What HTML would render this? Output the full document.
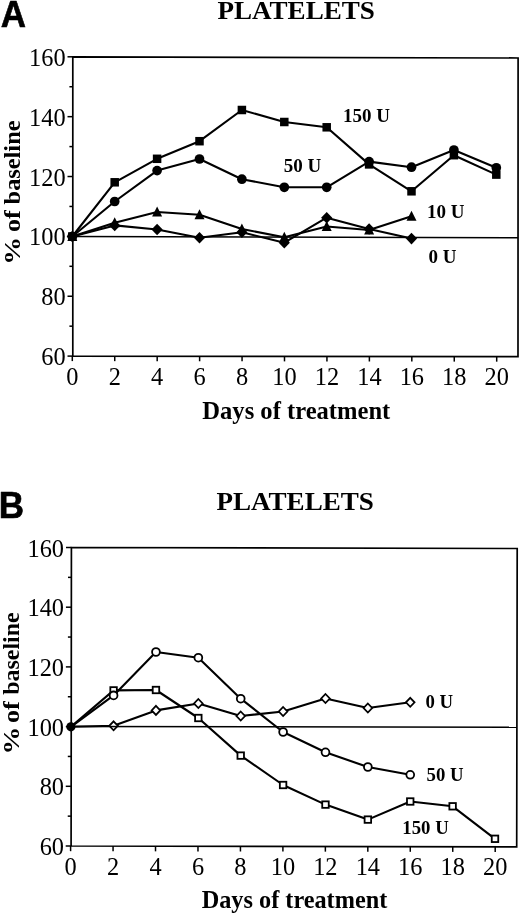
<!DOCTYPE html>
<html lang="en">
<head>
<meta charset="utf-8">
<title>Platelets</title>
<style>
html,body{margin:0;padding:0;background:#fff;}
body{width:520px;height:914px;overflow:hidden;}
svg{display:block;}
text{white-space:pre;}
</style>
</head>
<body>
<svg width="520" height="914" viewBox="0 0 520 914">
<rect x="0" y="0" width="520" height="914" fill="#fff"/>
<g id="chartA">
<g stroke="#000" fill="none" stroke-linecap="butt" stroke-linejoin="miter">
<polygon points="72.8,56.8 518.1,58 518,356.7 72.8,356.1" stroke-width="1.7"/>
<line x1="67.5" y1="356.1" x2="72.8" y2="356.1" stroke-width="1.5"/>
<line x1="69.4" y1="326.17" x2="72.8" y2="326.17" stroke-width="1.5"/>
<line x1="67.5" y1="296.24" x2="72.8" y2="296.24" stroke-width="1.5"/>
<line x1="69.4" y1="266.31" x2="72.8" y2="266.31" stroke-width="1.5"/>
<line x1="67.5" y1="236.38" x2="72.8" y2="236.38" stroke-width="1.5"/>
<line x1="69.4" y1="206.45" x2="72.8" y2="206.45" stroke-width="1.5"/>
<line x1="67.5" y1="176.52" x2="72.8" y2="176.52" stroke-width="1.5"/>
<line x1="69.4" y1="146.59" x2="72.8" y2="146.59" stroke-width="1.5"/>
<line x1="67.5" y1="116.66" x2="72.8" y2="116.66" stroke-width="1.5"/>
<line x1="69.4" y1="86.73" x2="72.8" y2="86.73" stroke-width="1.5"/>
<line x1="67.5" y1="56.8" x2="72.8" y2="56.8" stroke-width="1.5"/>
<line x1="72.3" y1="356.1" x2="72.3" y2="361.1" stroke-width="1.5"/>
<line x1="114.74" y1="356.16" x2="114.74" y2="361.16" stroke-width="1.5"/>
<line x1="157.18" y1="356.21" x2="157.18" y2="361.21" stroke-width="1.5"/>
<line x1="199.62" y1="356.27" x2="199.62" y2="361.27" stroke-width="1.5"/>
<line x1="242.06" y1="356.33" x2="242.06" y2="361.33" stroke-width="1.5"/>
<line x1="284.5" y1="356.39" x2="284.5" y2="361.39" stroke-width="1.5"/>
<line x1="326.94" y1="356.44" x2="326.94" y2="361.44" stroke-width="1.5"/>
<line x1="369.38" y1="356.5" x2="369.38" y2="361.5" stroke-width="1.5"/>
<line x1="411.82" y1="356.56" x2="411.82" y2="361.56" stroke-width="1.5"/>
<line x1="454.26" y1="356.61" x2="454.26" y2="361.61" stroke-width="1.5"/>
<line x1="496.7" y1="356.67" x2="496.7" y2="361.67" stroke-width="1.5"/>
</g>
<g font-family='"Liberation Serif", "Times New Roman", serif' font-size="25.4" fill="#000">
<text x="65.6" y="365.1" text-anchor="end" textLength="24.38" lengthAdjust="spacingAndGlyphs">60</text>
<text x="65.6" y="305.24" text-anchor="end" textLength="24.38" lengthAdjust="spacingAndGlyphs">80</text>
<text x="65.6" y="245.38" text-anchor="end" textLength="36.58" lengthAdjust="spacingAndGlyphs">100</text>
<text x="65.6" y="185.52" text-anchor="end" textLength="36.58" lengthAdjust="spacingAndGlyphs">120</text>
<text x="65.6" y="125.66" text-anchor="end" textLength="36.58" lengthAdjust="spacingAndGlyphs">140</text>
<text x="65.6" y="65.8" text-anchor="end" textLength="36.58" lengthAdjust="spacingAndGlyphs">160</text>
<text x="72.3" y="384.6" text-anchor="middle" textLength="12.19" lengthAdjust="spacingAndGlyphs">0</text>
<text x="114.74" y="384.6" text-anchor="middle" textLength="12.19" lengthAdjust="spacingAndGlyphs">2</text>
<text x="157.18" y="384.6" text-anchor="middle" textLength="12.19" lengthAdjust="spacingAndGlyphs">4</text>
<text x="199.62" y="384.6" text-anchor="middle" textLength="12.19" lengthAdjust="spacingAndGlyphs">6</text>
<text x="242.06" y="384.6" text-anchor="middle" textLength="12.19" lengthAdjust="spacingAndGlyphs">8</text>
<text x="284.5" y="384.6" text-anchor="middle" textLength="24.38" lengthAdjust="spacingAndGlyphs">10</text>
<text x="326.94" y="384.6" text-anchor="middle" textLength="24.38" lengthAdjust="spacingAndGlyphs">12</text>
<text x="369.38" y="384.6" text-anchor="middle" textLength="24.38" lengthAdjust="spacingAndGlyphs">14</text>
<text x="411.82" y="384.6" text-anchor="middle" textLength="24.38" lengthAdjust="spacingAndGlyphs">16</text>
<text x="454.26" y="384.6" text-anchor="middle" textLength="24.38" lengthAdjust="spacingAndGlyphs">18</text>
<text x="496.7" y="384.6" text-anchor="middle" textLength="24.38" lengthAdjust="spacingAndGlyphs">20</text>
</g>
<polyline points="72.3,236.5 114.7,225.4 157.1,229.5 199.5,237.8 241.9,232.3 284.3,242.7 326.7,217.7 369.1,229 411.5,238.6" fill="none" stroke="#000" stroke-width="2.1" stroke-linejoin="round"/>
<polyline points="72.3,236.5 114.7,222.7 157.1,212 199.5,214.8 241.9,229 284.3,237.3 326.7,226.5 369.1,230 411.5,216.2" fill="none" stroke="#000" stroke-width="2.1" stroke-linejoin="round"/>
<polyline points="72.3,236.5 114.7,201.5 157.1,170.6 199.5,159 241.9,179.2 284.3,187.3 326.7,187.3 369.1,161.6 411.5,167.2 453.9,150 496.3,167.8" fill="none" stroke="#000" stroke-width="2.1" stroke-linejoin="round"/>
<polyline points="72.3,236.5 114.7,182.3 157.1,158.8 199.5,141.2 241.9,110 284.3,122 326.7,127.3 369.1,164.4 411.5,191.3 453.9,155.2 496.3,174.6" fill="none" stroke="#000" stroke-width="2.1" stroke-linejoin="round"/>
<polygon points="72.3,230.7 77.9,236.5 72.3,242.3 66.7,236.5" fill="#000"/>
<polygon points="114.7,219.6 120.3,225.4 114.7,231.2 109.1,225.4" fill="#000"/>
<polygon points="157.1,223.7 162.7,229.5 157.1,235.3 151.5,229.5" fill="#000"/>
<polygon points="199.5,232 205.1,237.8 199.5,243.6 193.9,237.8" fill="#000"/>
<polygon points="241.9,226.5 247.5,232.3 241.9,238.1 236.3,232.3" fill="#000"/>
<polygon points="284.3,236.9 289.9,242.7 284.3,248.5 278.7,242.7" fill="#000"/>
<polygon points="326.7,211.9 332.3,217.7 326.7,223.5 321.1,217.7" fill="#000"/>
<polygon points="369.1,223.2 374.7,229 369.1,234.8 363.5,229" fill="#000"/>
<polygon points="411.5,232.8 417.1,238.6 411.5,244.4 405.9,238.6" fill="#000"/>
<polygon points="72.3,231 67.3,241 77.3,241" fill="#000"/>
<polygon points="114.7,217.2 109.7,227.2 119.7,227.2" fill="#000"/>
<polygon points="157.1,206.5 152.1,216.5 162.1,216.5" fill="#000"/>
<polygon points="199.5,209.3 194.5,219.3 204.5,219.3" fill="#000"/>
<polygon points="241.9,223.5 236.9,233.5 246.9,233.5" fill="#000"/>
<polygon points="284.3,231.8 279.3,241.8 289.3,241.8" fill="#000"/>
<polygon points="326.7,221 321.7,231 331.7,231" fill="#000"/>
<polygon points="369.1,224.5 364.1,234.5 374.1,234.5" fill="#000"/>
<polygon points="411.5,210.7 406.5,220.7 416.5,220.7" fill="#000"/>
<circle cx="72.3" cy="236.5" r="4.85" fill="#000"/>
<circle cx="114.7" cy="201.5" r="4.85" fill="#000"/>
<circle cx="157.1" cy="170.6" r="4.85" fill="#000"/>
<circle cx="199.5" cy="159" r="4.85" fill="#000"/>
<circle cx="241.9" cy="179.2" r="4.85" fill="#000"/>
<circle cx="284.3" cy="187.3" r="4.85" fill="#000"/>
<circle cx="326.7" cy="187.3" r="4.85" fill="#000"/>
<circle cx="369.1" cy="161.6" r="4.85" fill="#000"/>
<circle cx="411.5" cy="167.2" r="4.85" fill="#000"/>
<circle cx="453.9" cy="150" r="4.85" fill="#000"/>
<circle cx="496.3" cy="167.8" r="4.85" fill="#000"/>
<rect x="68.05" y="232.25" width="8.5" height="8.5" fill="#000"/>
<rect x="110.45" y="178.05" width="8.5" height="8.5" fill="#000"/>
<rect x="152.85" y="154.55" width="8.5" height="8.5" fill="#000"/>
<rect x="195.25" y="136.95" width="8.5" height="8.5" fill="#000"/>
<rect x="237.65" y="105.75" width="8.5" height="8.5" fill="#000"/>
<rect x="280.05" y="117.75" width="8.5" height="8.5" fill="#000"/>
<rect x="322.45" y="123.05" width="8.5" height="8.5" fill="#000"/>
<rect x="364.85" y="160.15" width="8.5" height="8.5" fill="#000"/>
<rect x="407.25" y="187.05" width="8.5" height="8.5" fill="#000"/>
<rect x="449.65" y="150.95" width="8.5" height="8.5" fill="#000"/>
<rect x="492.05" y="170.35" width="8.5" height="8.5" fill="#000"/>
<line x1="73" y1="236.5" x2="518" y2="237.7" stroke="#000" stroke-width="1.5"/>
<g font-family='"Liberation Serif", "Times New Roman", serif' font-weight="bold" fill="#000">
<text x="343" y="121.5" font-size="19">150 U</text>
<text x="283.7" y="172" font-size="19">50 U</text>
<text x="427" y="217.5" font-size="19">10 U</text>
<text x="428.4" y="263" font-size="19">0 U</text>
<text x="217.4" y="19.1" font-size="26" textLength="157.5" lengthAdjust="spacingAndGlyphs">PLATELETS</text>
<text x="202.3" y="418.7" font-size="24.3" textLength="188" lengthAdjust="spacingAndGlyphs">Days of treatment</text>
<text transform="translate(20.2 264.3) rotate(-90)" font-size="23.7"><tspan x="-0.5" textLength="35" lengthAdjust="spacingAndGlyphs">% </tspan><tspan x="32.3" textLength="28.3" lengthAdjust="spacingAndGlyphs">of </tspan><tspan x="59.9" textLength="83.9" lengthAdjust="spacingAndGlyphs">baseline</tspan></text>
</g>
<text transform="translate(0.7 26.6) scale(1.0 1.06)" font-family='"Liberation Sans", Arial, sans-serif' font-weight="bold" font-size="35" fill="#000" stroke="#000" stroke-width="0.6" stroke-linejoin="round">A</text>
</g>
<g id="chartB">
<g stroke="#000" fill="none" stroke-linecap="butt" stroke-linejoin="miter">
<polygon points="71.4,547.5 517.2,548.5 516.7,846.8 71.1,846" stroke-width="1.7"/>
<line x1="65.7" y1="846" x2="71.1" y2="846" stroke-width="1.5"/>
<line x1="67.73" y1="816.15" x2="71.13" y2="816.15" stroke-width="1.5"/>
<line x1="65.76" y1="786.3" x2="71.16" y2="786.3" stroke-width="1.5"/>
<line x1="67.79" y1="756.45" x2="71.19" y2="756.45" stroke-width="1.5"/>
<line x1="65.82" y1="726.6" x2="71.22" y2="726.6" stroke-width="1.5"/>
<line x1="67.85" y1="696.75" x2="71.25" y2="696.75" stroke-width="1.5"/>
<line x1="65.88" y1="666.9" x2="71.28" y2="666.9" stroke-width="1.5"/>
<line x1="67.91" y1="637.05" x2="71.31" y2="637.05" stroke-width="1.5"/>
<line x1="65.94" y1="607.2" x2="71.34" y2="607.2" stroke-width="1.5"/>
<line x1="67.97" y1="577.35" x2="71.37" y2="577.35" stroke-width="1.5"/>
<line x1="66" y1="547.5" x2="71.4" y2="547.5" stroke-width="1.5"/>
<line x1="70.6" y1="846" x2="70.6" y2="851.2" stroke-width="1.5"/>
<line x1="113.06" y1="846.08" x2="113.06" y2="851.28" stroke-width="1.5"/>
<line x1="155.52" y1="846.15" x2="155.52" y2="851.35" stroke-width="1.5"/>
<line x1="197.98" y1="846.23" x2="197.98" y2="851.43" stroke-width="1.5"/>
<line x1="240.44" y1="846.3" x2="240.44" y2="851.5" stroke-width="1.5"/>
<line x1="282.9" y1="846.38" x2="282.9" y2="851.58" stroke-width="1.5"/>
<line x1="325.36" y1="846.46" x2="325.36" y2="851.66" stroke-width="1.5"/>
<line x1="367.82" y1="846.53" x2="367.82" y2="851.73" stroke-width="1.5"/>
<line x1="410.28" y1="846.61" x2="410.28" y2="851.81" stroke-width="1.5"/>
<line x1="452.74" y1="846.69" x2="452.74" y2="851.89" stroke-width="1.5"/>
<line x1="495.2" y1="846.76" x2="495.2" y2="851.96" stroke-width="1.5"/>
</g>
<g font-family='"Liberation Serif", "Times New Roman", serif' font-size="25.4" fill="#000">
<text x="64.05" y="855" text-anchor="end" textLength="24.38" lengthAdjust="spacingAndGlyphs">60</text>
<text x="64.05" y="795.3" text-anchor="end" textLength="24.38" lengthAdjust="spacingAndGlyphs">80</text>
<text x="64.05" y="735.6" text-anchor="end" textLength="36.58" lengthAdjust="spacingAndGlyphs">100</text>
<text x="64.05" y="675.9" text-anchor="end" textLength="36.58" lengthAdjust="spacingAndGlyphs">120</text>
<text x="64.05" y="616.2" text-anchor="end" textLength="36.58" lengthAdjust="spacingAndGlyphs">140</text>
<text x="64.05" y="556.5" text-anchor="end" textLength="36.58" lengthAdjust="spacingAndGlyphs">160</text>
<text x="70.6" y="874.5" text-anchor="middle" textLength="12.19" lengthAdjust="spacingAndGlyphs">0</text>
<text x="113.06" y="874.5" text-anchor="middle" textLength="12.19" lengthAdjust="spacingAndGlyphs">2</text>
<text x="155.52" y="874.5" text-anchor="middle" textLength="12.19" lengthAdjust="spacingAndGlyphs">4</text>
<text x="197.98" y="874.5" text-anchor="middle" textLength="12.19" lengthAdjust="spacingAndGlyphs">6</text>
<text x="240.44" y="874.5" text-anchor="middle" textLength="12.19" lengthAdjust="spacingAndGlyphs">8</text>
<text x="282.9" y="874.5" text-anchor="middle" textLength="24.38" lengthAdjust="spacingAndGlyphs">10</text>
<text x="325.36" y="874.5" text-anchor="middle" textLength="24.38" lengthAdjust="spacingAndGlyphs">12</text>
<text x="367.82" y="874.5" text-anchor="middle" textLength="24.38" lengthAdjust="spacingAndGlyphs">14</text>
<text x="410.28" y="874.5" text-anchor="middle" textLength="24.38" lengthAdjust="spacingAndGlyphs">16</text>
<text x="452.74" y="874.5" text-anchor="middle" textLength="24.38" lengthAdjust="spacingAndGlyphs">18</text>
<text x="495.2" y="874.5" text-anchor="middle" textLength="24.38" lengthAdjust="spacingAndGlyphs">20</text>
</g>
<polyline points="70.9,726.8 113.58,690.4 155.96,690 198.34,718 240.72,755.6 283.1,785 325.48,804.6 367.86,819.6 410.24,801.5 452.62,806.3 495,838.8" fill="none" stroke="#000" stroke-width="2.1" stroke-linejoin="round"/>
<polyline points="70.9,726.8 113.58,725.8 155.96,710.4 198.34,703.5 240.72,716 283.1,711.5 325.48,698.5 367.86,708 410.24,702.3" fill="none" stroke="#000" stroke-width="2.1" stroke-linejoin="round"/>
<polyline points="70.9,726.8 113.58,695.4 155.96,652 198.34,657.7 240.72,698.7 283.1,732 325.48,752.3 367.86,767 410.24,774.8" fill="none" stroke="#000" stroke-width="2.1" stroke-linejoin="round"/>
<rect x="110.33" y="687.15" width="6.5" height="6.5" fill="#fff" stroke="#000" stroke-width="1.8"/>
<rect x="152.71" y="686.75" width="6.5" height="6.5" fill="#fff" stroke="#000" stroke-width="1.8"/>
<rect x="195.09" y="714.75" width="6.5" height="6.5" fill="#fff" stroke="#000" stroke-width="1.8"/>
<rect x="237.47" y="752.35" width="6.5" height="6.5" fill="#fff" stroke="#000" stroke-width="1.8"/>
<rect x="279.85" y="781.75" width="6.5" height="6.5" fill="#fff" stroke="#000" stroke-width="1.8"/>
<rect x="322.23" y="801.35" width="6.5" height="6.5" fill="#fff" stroke="#000" stroke-width="1.8"/>
<rect x="364.61" y="816.35" width="6.5" height="6.5" fill="#fff" stroke="#000" stroke-width="1.8"/>
<rect x="406.99" y="798.25" width="6.5" height="6.5" fill="#fff" stroke="#000" stroke-width="1.8"/>
<rect x="449.37" y="803.05" width="6.5" height="6.5" fill="#fff" stroke="#000" stroke-width="1.8"/>
<rect x="491.75" y="835.55" width="6.5" height="6.5" fill="#fff" stroke="#000" stroke-width="1.8"/>
<polygon points="113.58,721.3 117.88,725.8 113.58,730.3 109.28,725.8" fill="#fff" stroke="#000" stroke-width="1.8"/>
<polygon points="155.96,705.9 160.26,710.4 155.96,714.9 151.66,710.4" fill="#fff" stroke="#000" stroke-width="1.8"/>
<polygon points="198.34,699 202.64,703.5 198.34,708 194.04,703.5" fill="#fff" stroke="#000" stroke-width="1.8"/>
<polygon points="240.72,711.5 245.02,716 240.72,720.5 236.42,716" fill="#fff" stroke="#000" stroke-width="1.8"/>
<polygon points="283.1,707 287.4,711.5 283.1,716 278.8,711.5" fill="#fff" stroke="#000" stroke-width="1.8"/>
<polygon points="325.48,694 329.78,698.5 325.48,703 321.18,698.5" fill="#fff" stroke="#000" stroke-width="1.8"/>
<polygon points="367.86,703.5 372.16,708 367.86,712.5 363.56,708" fill="#fff" stroke="#000" stroke-width="1.8"/>
<polygon points="410.24,697.8 414.54,702.3 410.24,706.8 405.94,702.3" fill="#fff" stroke="#000" stroke-width="1.8"/>
<circle cx="113.58" cy="695.4" r="3.9" fill="#fff" stroke="#000" stroke-width="1.8"/>
<circle cx="155.96" cy="652" r="3.9" fill="#fff" stroke="#000" stroke-width="1.8"/>
<circle cx="198.34" cy="657.7" r="3.9" fill="#fff" stroke="#000" stroke-width="1.8"/>
<circle cx="240.72" cy="698.7" r="3.9" fill="#fff" stroke="#000" stroke-width="1.8"/>
<circle cx="283.1" cy="732" r="3.9" fill="#fff" stroke="#000" stroke-width="1.8"/>
<circle cx="325.48" cy="752.3" r="3.9" fill="#fff" stroke="#000" stroke-width="1.8"/>
<circle cx="367.86" cy="767" r="3.9" fill="#fff" stroke="#000" stroke-width="1.8"/>
<circle cx="410.24" cy="774.8" r="3.9" fill="#fff" stroke="#000" stroke-width="1.8"/>
<circle cx="70.9" cy="726.8" r="4.6" fill="#000"/>
<line x1="71.4" y1="726.5" x2="517" y2="727.2" stroke="#000" stroke-width="1.5"/>
<g font-family='"Liberation Serif", "Times New Roman", serif' font-weight="bold" fill="#000">
<text x="425.5" y="707.8" font-size="18.8">0 U</text>
<text x="426.5" y="781.3" font-size="18.8">50 U</text>
<text x="402.3" y="833.8" font-size="18.8">150 U</text>
<text x="216.4" y="509.5" font-size="26" textLength="157.5" lengthAdjust="spacingAndGlyphs">PLATELETS</text>
<text x="201.7" y="908.2" font-size="24.3" textLength="185.6" lengthAdjust="spacingAndGlyphs">Days of treatment</text>
<text transform="translate(18.9 753.8) rotate(-90)" font-size="23.7"><tspan x="-0.7" textLength="35" lengthAdjust="spacingAndGlyphs">% </tspan><tspan x="30.7" textLength="28.3" lengthAdjust="spacingAndGlyphs">of </tspan><tspan x="59" textLength="82.4" lengthAdjust="spacingAndGlyphs">baseline</tspan></text>
</g>
<text transform="translate(-1.35 517.9) scale(1.0 1.06)" font-family='"Liberation Sans", Arial, sans-serif' font-weight="bold" font-size="35" fill="#000" stroke="#000" stroke-width="0.6" stroke-linejoin="round">B</text>
</g>
</svg>
</body>
</html>
